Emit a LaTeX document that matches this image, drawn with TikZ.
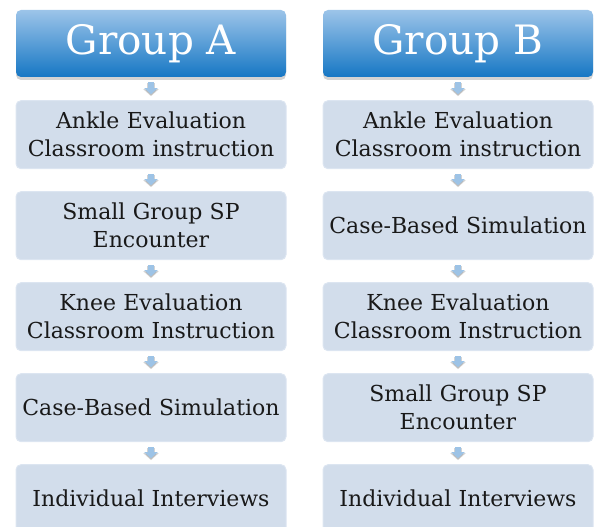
\documentclass[tikz,border=0pt]{standalone}
\usepackage{fontspec}
\setmainfont{DejaVu Serif}
\usepackage{xcolor}
\usepackage{tikz}
\usetikzlibrary{arrows.meta,positioning,shadows}

\definecolor{headtop}{HTML}{9CC4E9}
\definecolor{headbot}{HTML}{1677C4}
\definecolor{stagefill}{HTML}{D2DDEB}
\definecolor{stageline}{HTML}{DCE5F1}
\definecolor{flowblue}{HTML}{9DC3E6}

\begin{document}
\begin{tikzpicture}[x=1pt,y=1pt,
  header/.style={draw=none, rounded corners=5pt, top color=headtop, bottom color=headbot,
    minimum width=270pt, minimum height=67pt, inner sep=0pt, text=white,
    font=\fontsize{40.5}{46}\selectfont,
    drop shadow={opacity=0.35, shadow xshift=0pt, shadow yshift=-3pt}},
  stage/.style={draw=stageline, line width=1pt, rounded corners=5pt, fill=stagefill,
    minimum width=270pt, minimum height=68pt, text width=264pt, inner sep=3pt,
    align=center, text=black!90, font=\fontsize{22}{28}\selectfont}]
        \tikzstyle{flow} = [draw=flowblue, line width=6.5pt, -{Triangle[width=13pt,length=6pt]},
            shorten <=5pt, shorten >=6pt]
        \tikzstyle{flowshade} = [draw=black!50, opacity=0.35, line width=8.5pt,
            -{Triangle[width=15pt,length=7pt]}, shorten <=6pt, shorten >=4pt]
        \useasboundingbox (0,0) rectangle (595,527);
        \clip (0,0) rectangle (595,527);

        % group A
        \node[header] (ga) at (151,483.5) {Group A};
        \node[stage, below = 23pt of ga] (a1) {Ankle Evaluation\\Classroom instruction};
        \node[stage, below = 22pt of a1] (a2) {Small Group SP\\Encounter};
        \node[stage, below = 22pt of a2] (a3) {Knee Evaluation\\Classroom Instruction};
        \node[stage, below = 22pt of a3] (a4) {Case-Based Simulation};
        \node[stage, below = 22pt of a4] (a5) {Individual Interviews};

        % group B
        \node[header] (gb) at (458,483.5) {Group B};
        \node[stage, below = 23pt of gb] (b1) {Ankle Evaluation\\Classroom instruction};
        \node[stage, below = 22pt of b1] (b2) {Case-Based Simulation};
        \node[stage, below = 22pt of b2] (b3) {Knee Evaluation\\Classroom Instruction};
        \node[stage, below = 22pt of b3] (b4) {Small Group SP\\Encounter};
        \node[stage, below = 22pt of b4] (b5) {Individual Interviews};

        \draw[flowshade] (ga) -- (a1);
        \draw[flowshade] (a1) -- (a2);
        \draw[flowshade] (a2) -- (a3);
        \draw[flowshade] (a3) -- (a4);
        \draw[flowshade] (a4) -- (a5);
        \draw[flowshade] (gb) -- (b1);
        \draw[flowshade] (b1) -- (b2);
        \draw[flowshade] (b2) -- (b3);
        \draw[flowshade] (b3) -- (b4);
        \draw[flowshade] (b4) -- (b5);

        \draw[flow] (ga) -- (a1);
        \draw[flow] (a1) -- (a2);
        \draw[flow] (a2) -- (a3);
        \draw[flow] (a3) -- (a4);
        \draw[flow] (a4) -- (a5);
        \draw[flow] (gb) -- (b1);
        \draw[flow] (b1) -- (b2);
        \draw[flow] (b2) -- (b3);
        \draw[flow] (b3) -- (b4);
        \draw[flow] (b4) -- (b5);
\end{tikzpicture}
\end{document}
